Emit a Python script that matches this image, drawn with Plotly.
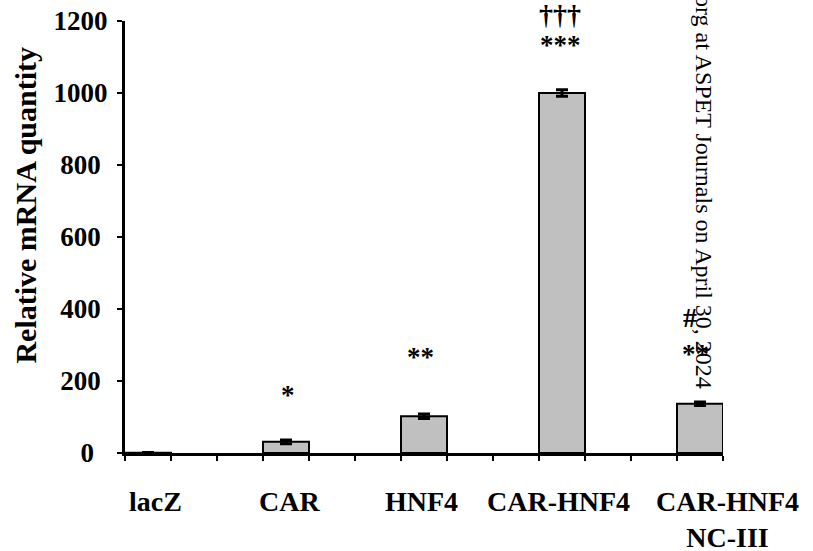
import plotly.graph_objects as go

# ---- data ----
categories = ["lacZ", "CAR", "HNF4", "CAR-HNF4", "CAR-HNF4<br>NC-III"]
values = [1, 31, 102, 1000, 137]
errors = [0.5, 5, 6, 9, 5]
sig_lower = ["", "*", "**", "***", "**"]
sig_upper = ["", "", "", "†††", "#"]
y_ticks = [0, 200, 400, 600, 800, 1000, 1200]
y_tick_labels = ["0", "200", "400", "600", "800", "1000", "1200"]
y_title = "Relative mRNA quantity"
watermark = "org at ASPET Journals on April 30, 2024"

# ---- layout / style ----
SERIF = "Liberation Serif"
slot = 3                      # axis units per category
positions = [slot * i + 0.5 for i in range(len(categories))]
n_units = slot * (len(categories) - 1) + 1

label_xshift = [7, 3, -3, -4, 27]
lower_shift = [0, 45, 57, 45, 48]      # px above error-bar top
upper_shift = [0, 0, 0, 75, 84]
sig_xshift_lower = [0, 2, -4, -2, -5]
sig_xshift_upper = [0, 0, 0, -2, -10]

fig = go.Figure()
fig.add_trace(go.Bar(
    x=positions, y=values, width=1,
    marker=dict(color="#C0C0C0", line=dict(color="black", width=2)),
    error_y=dict(type="data", array=errors, visible=True,
                 color="black", thickness=3, width=6),
    showlegend=False, hoverinfo="skip",
))

pad = {1: 2, 2: 1, 3: 1, 4: 0}
tick_text = [t + "\u00a0" * pad[len(t)] for t in y_tick_labels]

fig.update_layout(
    template="none",
    width=813, height=551,
    margin=dict(l=125, r=90, t=21, b=98, autoexpand=False),
    paper_bgcolor="white", plot_bgcolor="white",
    bargap=0,
    xaxis=dict(range=[0, n_units], showline=True, linecolor="black", linewidth=3,
               ticks="outside", ticklen=5, tickwidth=2, tickcolor="black",
               tickvals=list(range(n_units + 1)), showticklabels=False,
               showgrid=False, zeroline=False, fixedrange=True, automargin=False),
    yaxis=dict(range=[0, 1200], showline=True, linecolor="black", linewidth=3,
               ticks="outside", ticklen=5, tickwidth=2, tickcolor="black",
               tickvals=y_ticks, ticktext=tick_text, ticklabelstandoff=4,
               tickfont=dict(family=SERIF, size=27, color="black", weight="bold"),
               showgrid=False, zeroline=False, fixedrange=True, automargin=False),
)

annotations = []
for i, cat in enumerate(categories):
    annotations.append(dict(
        x=positions[i], xref="x", y=0, yref="paper", yanchor="top", xanchor="center",
        yshift=-31, xshift=label_xshift[i], text=cat, showarrow=False, align="center",
        font=dict(family=SERIF, size=28, color="black", weight="bold")))
    top = values[i] + errors[i]
    if sig_lower[i]:
        annotations.append(dict(
            x=positions[i], xref="x", y=top, yref="y", yanchor="middle", xanchor="center",
            yshift=lower_shift[i], xshift=sig_xshift_lower[i], text=sig_lower[i],
            showarrow=False,
            font=dict(family=SERIF, size=27, color="black", weight="bold")))
    if sig_upper[i]:
        annotations.append(dict(
            x=positions[i], xref="x", y=top, yref="y", yanchor="middle", xanchor="center",
            yshift=upper_shift[i], xshift=sig_xshift_upper[i], text=sig_upper[i],
            showarrow=False,
            font=dict(family=SERIF, size=28, color="black", weight="bold")))

annotations.append(dict(
    x=-0.167, xref="paper", y=0.573, yref="paper", xanchor="center", yanchor="middle",
    text=y_title, textangle=-90, showarrow=False,
    font=dict(family=SERIF, size=30, color="black", weight="bold")))

annotations.append(dict(
    x=0.968, xref="paper", y=1.065, yref="paper", xanchor="center", yanchor="top",
    text=watermark, textangle=90, showarrow=False,
    font=dict(family=SERIF, size=24, color="black")))

fig.update_layout(annotations=annotations)
fig.write_html(
    "out.html",
    config={"displayModeBar": False, "staticPlot": True},
    post_script="document.body.style.margin='0';document.body.style.padding='0';",
)
